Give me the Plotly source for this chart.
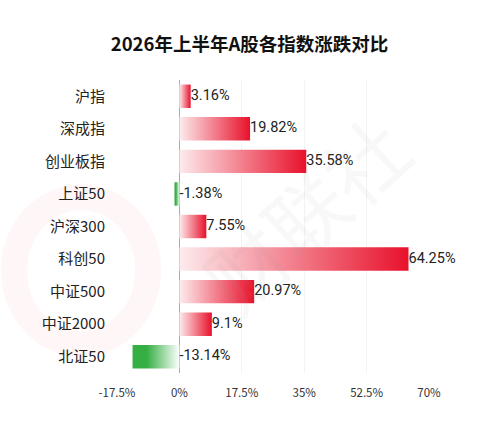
import plotly.graph_objects as go

categories = ["沪指", "深成指", "创业板指", "上证50", "沪深300", "科创50", "中证500", "中证2000", "北证50"]
values = [3.16, 19.82, 35.58, -1.38, 7.55, 64.25, 20.97, 9.1, -13.14]
tick_vals = [-17.5, 0, 17.5, 35, 52.5, 70]
tick_text = ["-17.5%", "0%", "17.5%", "35%", "52.5%", "70%"]
title = "2026年上半年A股各指数涨跌对比"

RED = "#E8112B"
PALE_RED = "#FDEBED"
GREEN = "#35AE44"
WHITE_G = "#FFFFFF"
BAR_H = 0.72

fig = go.Figure()

for i, v in enumerate(values):
    y0, y1 = i - BAR_H / 2, i + BAR_H / 2
    if v >= 0:
        cs = [[0, PALE_RED], [1, RED]]
        start, stop = 0, v
    else:
        cs = [[0, GREEN], [0.3, GREEN], [1, WHITE_G]]
        start, stop = v, 0
    fig.add_trace(go.Scatter(
        x=[0, v, v, 0, 0], y=[y0, y0, y1, y1, y0],
        mode="none", fill="toself",
        fillgradient=dict(type="horizontal", colorscale=cs, start=start, stop=stop),
        hoverinfo="skip", showlegend=False,
    ))

fig.add_trace(go.Scatter(
    x=[max(v, 0) for v in values], y=list(range(len(values))),
    mode="text", text=[f"{v:g}%" for v in values],
    textposition="middle right",
    textfont=dict(size=14.5, color="#222222", family="Roboto, Noto Sans CJK SC"),
    showlegend=False, hoverinfo="skip", cliponaxis=False,
))

# faint watermark
fig.add_annotation(
    text="财联社", x=0.6, y=0.55, xref="paper", yref="paper",
    showarrow=False, textangle=-42,
    font=dict(size=80, color="rgba(150,150,150,0.07)", family="Noto Sans CJK SC"),
)
fig.add_shape(
    type="circle", xref="paper", yref="paper",
    x0=-0.33, x1=0.1, y0=0.1, y1=0.6,
    line=dict(color="rgba(232,17,43,0.04)", width=26), layer="below",
)

fig.update_layout(
    width=499, height=428,
    paper_bgcolor="white", plot_bgcolor="white",
    margin=dict(l=117, r=70, t=80, b=55, autoexpand=False),
    title=dict(text="<b>" + title + "</b>", x=0.5, xanchor="center", y=0.895, yanchor="middle",
               font=dict(size=18.5, color="#111111", family="Noto Sans CJK SC")),
    font=dict(family="Noto Sans CJK SC", color="#333333"),
    xaxis=dict(range=[-17.5, 70], tickvals=tick_vals, ticktext=tick_text, automargin=False,
               showgrid=True, gridcolor="#F3F3F3", gridwidth=1,
               zeroline=True, zerolinecolor="#AAAAAA", zerolinewidth=1,
               showline=False, ticks="outside", ticklen=9, tickcolor="rgba(0,0,0,0)",
               tickfont=dict(size=11.5, color="#333333")),
    yaxis=dict(range=[len(values) - 0.5, -0.5], tickvals=list(range(len(values))),
               ticktext=categories, showgrid=False, zeroline=False, showline=False,
               automargin=False,
               ticks="outside", ticklen=8, tickcolor="rgba(0,0,0,0)",
               tickfont=dict(size=15, color="#222222")),
)

fig.write_html("out.html", config={"displayModeBar": False},
               post_script="document.body.style.margin='0';")
